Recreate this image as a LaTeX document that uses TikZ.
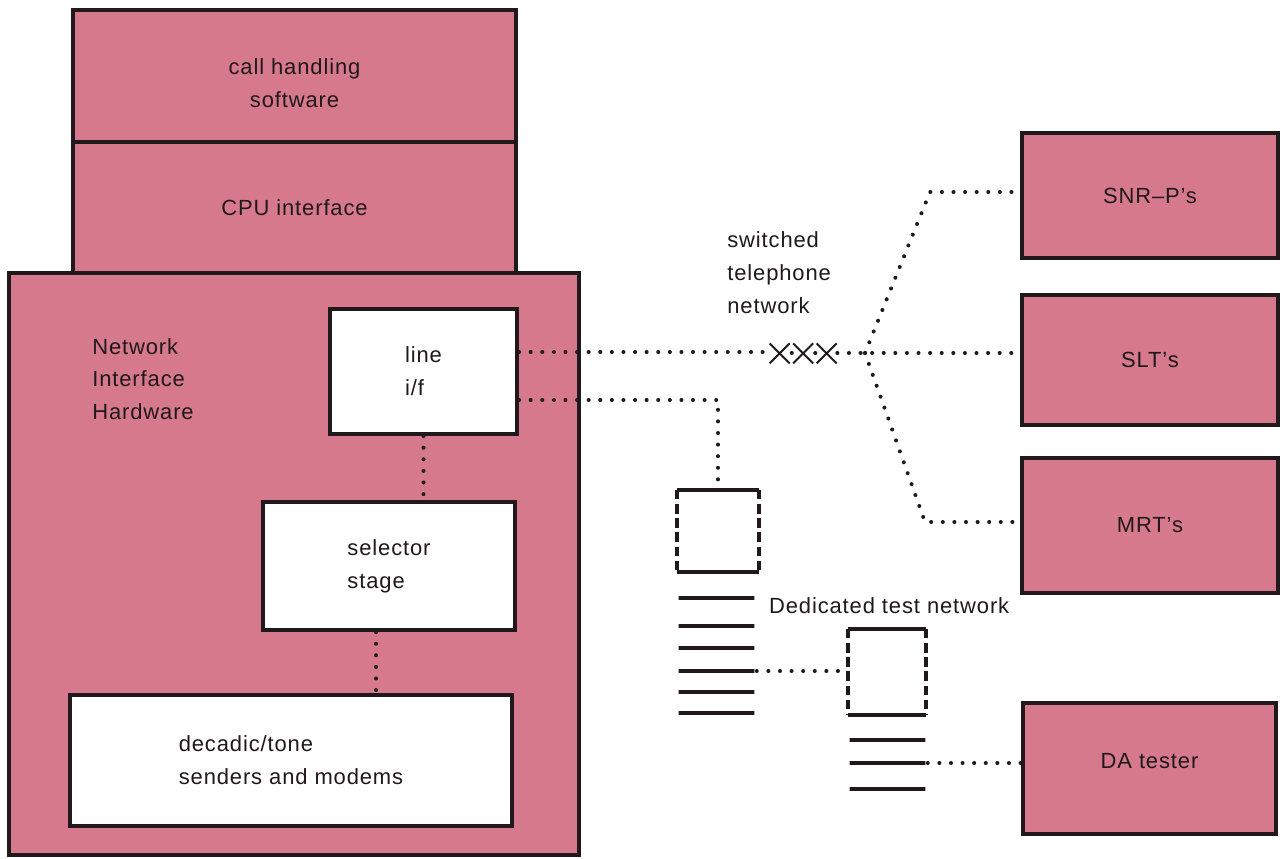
\documentclass[tikz,border=0pt]{standalone}
\usepackage{fontspec}
\setmainfont[LetterSpace=4]{Liberation Sans}
\usepackage{tikz}
\usetikzlibrary{positioning}
\definecolor{rosa}{RGB}{214,121,140}
\definecolor{tinta}{RGB}{32,24,26}
\tikzset{
    bloque/.style={rectangle,draw=tinta,line width=2.4pt,fill=rosa,inner sep=0pt,text=tinta,align=center,font=\fontsize{12.5}{18.7}\selectfont},
    caja/.style={bloque,fill=white,align=left},
    texto/.style={draw=none,fill=none,inner sep=0pt,align=left,text=tinta,font=\fontsize{12.5}{18.7}\selectfont},
    punteado/.style={draw=tinta,line width=2.3pt,line cap=round,dash pattern=on 0pt off 6.6pt},
    barra/.style={draw=tinta,fill=none,inner sep=0pt,minimum height=0pt,minimum width=1.52cm,line width=2.6pt},
    marco/.style={draw=none,fill=none,inner sep=0pt},
    borde/.style={draw=tinta,line width=2.3pt},
    borde cortado/.style={borde,line width=2.4pt,dash pattern=on 5.5pt off 2.6pt},
    cruz/.style={draw=tinta,line width=1.1pt},
}
\begin{document}
\begin{tikzpicture}[x=0.02cm,y=-0.02cm]
\useasboundingbox (0,0) rectangle (1286,859);

% central: software, interfaz y hardware
\node[bloque,minimum width=8.86cm,minimum height=2.64cm] (soft) at (294.5,76) {};
\node[texto,align=center] (softtitulo) at (294.5,83) {call handling\\software};
\node[bloque,minimum width=8.86cm,minimum height=2.62cm] (cpu) at (294.5,207.5) {CPU interface};
\node[bloque,minimum width=11.4cm,minimum height=11.64cm] (hw) at (294,564) {};
\node[texto,anchor=west] (hwtitulo) at (92,379) {Network\\Interface\\Hardware};

\node[caja,minimum width=3.74cm,minimum height=2.5cm] (linea) at (423.5,371.5) {line\\i/f};
\node[caja,minimum width=5.04cm,minimum height=2.56cm] (selector) at (389,566) {selector\\stage};
\node[caja,minimum width=8.84cm,minimum height=2.62cm] (decadico) at (291,760.5) {decadic/tone\\senders and modems};

\draw[punteado] (linea.south) -- (linea.south |- selector.north);
\draw[punteado] ([xshift=-0.26cm]selector.south) -- ([xshift=-0.26cm]selector.south |- decadico.north);

% equipos de prueba
\node[bloque,minimum width=5.12cm,minimum height=2.5cm] (snrp) at (1150,195.5) {SNR--P's};
\node[bloque,minimum width=5.12cm,minimum height=2.6cm] (slt) at (1150,360) {SLT's};
\node[bloque,minimum width=5.12cm,minimum height=2.7cm] (mrt) at (1150,525.5) {MRT's};
\node[bloque,minimum width=5.06cm,minimum height=2.62cm] (datest) at (1149.5,768.5) {};
\node[texto] (datitulo) at (1149.5,761) {DA tester};

% red conmutada
\node[texto,anchor=west] (conmutada) at (727,273) {switched\\telephone\\network};
\node[marco,minimum width=1.34cm,minimum height=0.4cm] (cruces) at (803.5,353) {};
\draw[cruz] (cruces.south west) -- ++(20,-20) ++(-20,0) -- ++(20,20);
\draw[cruz] ([xshift=0.47cm]cruces.south west) -- ++(20,-20) ++(-20,0) -- ++(20,20);
\draw[cruz] ([xshift=0.94cm]cruces.south west) -- ++(20,-20) ++(-20,0) -- ++(20,20);
\fill[tinta] ([xshift=-0.235cm]cruces.center) circle (1.15pt);
\fill[tinta] ([xshift=0.235cm]cruces.center) circle (1.15pt);

\coordinate (rama) at (865,353);
\coordinate (codo1) at (930,192);
\coordinate (codo2) at (925,522);
\draw[punteado] ([yshift=0.39cm]linea.east) -- ([yshift=0.39cm]linea.east -| cruces.west);
\draw[punteado] (cruces.east) -- (rama) -- (rama -| slt.west);
\draw[punteado] (rama) -- (codo1) -- (codo1 -| snrp.west);
\draw[punteado] (rama) -- (codo2) -- (codo2 -| mrt.west);

% red de prueba dedicada
\node[marco,minimum width=1.64cm,minimum height=1.64cm] (marco1) at (718,531) {};
\draw[borde] (marco1.north west) -- (marco1.north east);
\draw[borde] (marco1.south west) -- (marco1.south east);
\draw[borde cortado] (marco1.north west) -- (marco1.south west);
\draw[borde cortado] (marco1.north east) -- (marco1.south east);
\draw[punteado] ([yshift=-0.57cm]linea.east) -| (marco1.north);

\node[barra] (a1) at (716.5,598) {};
\node[barra] (a2) at (716.5,626) {};
\node[barra] (a3) at (716.5,648) {};
\node[barra] (a4) at (716.5,671) {};
\node[barra] (a5) at (716.5,692) {};
\node[barra] (a6) at (716.5,713) {};
\node[texto,right=0.24cm of a1,yshift=-0.16cm] (dedicada) {Dedicated test network};

\node[marco,minimum width=1.56cm,minimum height=1.72cm] (marco2) at (887,672) {};
\draw[borde] (marco2.north west) -- (marco2.north east);
\draw[borde] (marco2.south west) -- (marco2.south east);
\draw[borde cortado] (marco2.north west) -- (marco2.south west);
\draw[borde cortado] (marco2.north east) -- (marco2.south east);
\draw[punteado] (a4.east) -- (a4.east -| marco2.west);

\node[barra] (b1) at (887.5,740) {};
\node[barra] (b2) at (887.5,763) {};
\node[barra] (b3) at (887.5,789) {};
\draw[punteado] (b2.east) -- (b2.east -| datest.west);
\end{tikzpicture}
\end{document}
